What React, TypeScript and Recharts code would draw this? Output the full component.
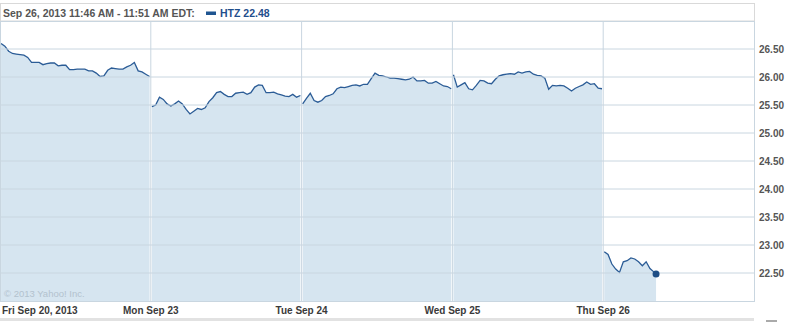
import { Area, ComposedChart, ReferenceDot, ReferenceLine, XAxis, YAxis } from "recharts";

// minutes after the 9:30 open, one sample every 10 minutes
const minutes = [0, 10, 20, 30, 40, 50, 60, 70, 80, 90, 100, 110, 120, 130, 140, 150, 160, 170, 180, 190, 200, 210, 220, 230, 240, 250, 260, 270, 280, 290, 300, 310, 320, 330, 340, 350, 360, 370, 380, 390];
const thuMinutes = [0, 10, 20, 30, 40, 50, 60, 70, 80, 90, 100, 110, 120, 130, 136];

const dayLabels = ["Fri Sep 20, 2013", "Mon Sep 23", "Tue Sep 24", "Wed Sep 25", "Thu Sep 26"];

const fri = [26.6, 26.55, 26.46, 26.42, 26.41, 26.4, 26.39, 26.35, 26.26, 26.26, 26.26, 26.22, 26.24, 26.25, 26.25, 26.2, 26.21, 26.21, 26.13, 26.13, 26.14, 26.14, 26.14, 26.11, 26.11, 26.07, 26.01, 26.02, 26.12, 26.16, 26.15, 26.14, 26.14, 26.18, 26.21, 26.26, 26.11, 26.09, 26.05, 26.01];
const mon = [25.47, 25.5, 25.64, 25.6, 25.52, 25.48, 25.52, 25.57, 25.52, 25.42, 25.34, 25.39, 25.44, 25.42, 25.45, 25.56, 25.63, 25.72, 25.74, 25.69, 25.65, 25.65, 25.71, 25.72, 25.73, 25.69, 25.72, 25.82, 25.86, 25.85, 25.72, 25.72, 25.73, 25.7, 25.68, 25.66, 25.65, 25.69, 25.64, 25.67];
const tue = [25.52, 25.62, 25.71, 25.58, 25.55, 25.58, 25.65, 25.67, 25.7, 25.79, 25.82, 25.81, 25.83, 25.85, 25.86, 25.84, 25.87, 25.87, 25.97, 26.07, 26.03, 26.02, 26.0, 25.98, 25.98, 25.97, 25.96, 25.95, 25.96, 26.0, 25.93, 25.93, 25.94, 25.89, 25.89, 25.92, 25.88, 25.84, 25.83, 25.79];
const wed = [26.04, 25.82, 25.86, 25.9, 25.79, 25.77, 25.85, 25.94, 25.93, 25.89, 25.88, 25.96, 26.02, 26.04, 26.05, 26.06, 26.05, 26.09, 26.07, 26.09, 26.1, 26.05, 26.03, 26.02, 25.98, 25.78, 25.85, 25.84, 25.85, 25.84, 25.8, 25.75, 25.8, 25.83, 25.86, 25.91, 25.87, 25.88, 25.8, 25.79];
const thu = [22.88, 22.83, 22.66, 22.57, 22.51, 22.7, 22.72, 22.77, 22.75, 22.7, 22.63, 22.7, 22.58, 22.52, 22.48];

const yTicks = [22.5, 23, 23.5, 24, 24.5, 25, 25.5, 26, 26.5];

const LINE = "#2b5c96";
const FILL = "#d6e5f0";
const GRID = "#c9d6e0";
const FONT = "'Liberation Sans', Arial, sans-serif";

const toRows = (day: number, mins: number[], prices: number[]) =>
  prices.map((p, i) => ({ t: day + 0.007 + (mins[i] / 390) * 0.985, p }));

const days = [
  toRows(0, minutes, fri),
  toRows(1, minutes, mon),
  toRows(2, minutes, tue),
  toRows(3, minutes, wed),
  toRows(4, thuMinutes, thu),
];
const last = days[4][days[4].length - 1];

function DayTick(props: any) {
  const { x, y, payload } = props;
  const first = payload.value === 0;
  return (
    <text x={first ? x + 2 : x} y={y + 13} textAnchor={first ? "start" : "middle"} fill="#3a3a3a" fontSize={10} fontWeight="bold" fontFamily={FONT}>
      {dayLabels[payload.value]}
    </text>
  );
}

function PriceTick(props: any) {
  const { x, y, payload } = props;
  return (
    <text x={x} y={y} dy="0.35em" textAnchor="start" fill="#555" fontSize={10} fontWeight="bold" fontFamily={FONT}>
      {payload.value.toFixed(2)}
    </text>
  );
}

export default function App() {
  return (
    <div style={{ position: "absolute", left: 0, top: 0, width: 798, height: 322, background: "#fff" }}>
      <ComposedChart width={798} height={322} margin={{ top: 21, right: 0, bottom: 0, left: 0 }}>
        <XAxis type="number" dataKey="t" domain={[0, 5]} ticks={[0, 1, 2, 3, 4]} interval={0} tick={<DayTick />} axisLine={false} tickLine={false} tickSize={0} tickMargin={0} height={21} allowDataOverflow />
        <YAxis orientation="right" domain={[22, 27]} ticks={yTicks} interval={0} tick={<PriceTick />} axisLine={false} tickLine={false} tickSize={0} tickMargin={5} width={44} allowDataOverflow />
        {days.map((rows, i) => (
          <Area key={i} data={rows} dataKey="p" type="linear" baseValue={22} stroke={LINE} strokeWidth={1.3} fill={FILL} fillOpacity={1} dot={false} activeDot={false} isAnimationActive={false} />
        ))}
        {yTicks.map((v) => (
          <ReferenceLine key={v} y={v} stroke={GRID} strokeWidth={1} />
        ))}
        {[1, 2, 3, 4].map((d) => (
          <ReferenceLine key={d} x={d} stroke={GRID} strokeWidth={1} />
        ))}
        <ReferenceDot x={last.t} y={last.p} r={3.5} fill="#1f4e85" stroke="none" />
      </ComposedChart>
      <svg width={798} height={322} style={{ position: "absolute", left: 0, top: 0, pointerEvents: "none" }}>
        <rect x={0.5} y={3.5} width={754} height={17.5} fill="none" stroke="#d9d9d9" />
        <rect x={0.5} y={21.5} width={754} height={280} fill="none" stroke={GRID} />
        <text x={3} y={17} fill="#555" fontSize={10.5} fontWeight="bold" fontFamily={FONT}>
          Sep 26, 2013 11:46 AM - 11:51 AM EDT:
        </text>
        <rect x={206} y={11.5} width={10} height={3.5} fill="#1f5591" />
        <text x={220} y={17} fill="#1f4e8c" fontSize={10.5} fontWeight="bold" fontFamily={FONT}>
          HTZ 22.48
        </text>
        <text x={4} y={296.5} fill="#b3c2ce" fontSize={9.5} fontFamily={FONT}>
          © 2013 Yahoo! Inc.
        </text>
        <rect x={0} y={318} width={754} height={3} fill="#e2e2e2" />
        <rect x={766} y={320} width={11} height={2} fill="#aaa" />
      </svg>
    </div>
  );
}
